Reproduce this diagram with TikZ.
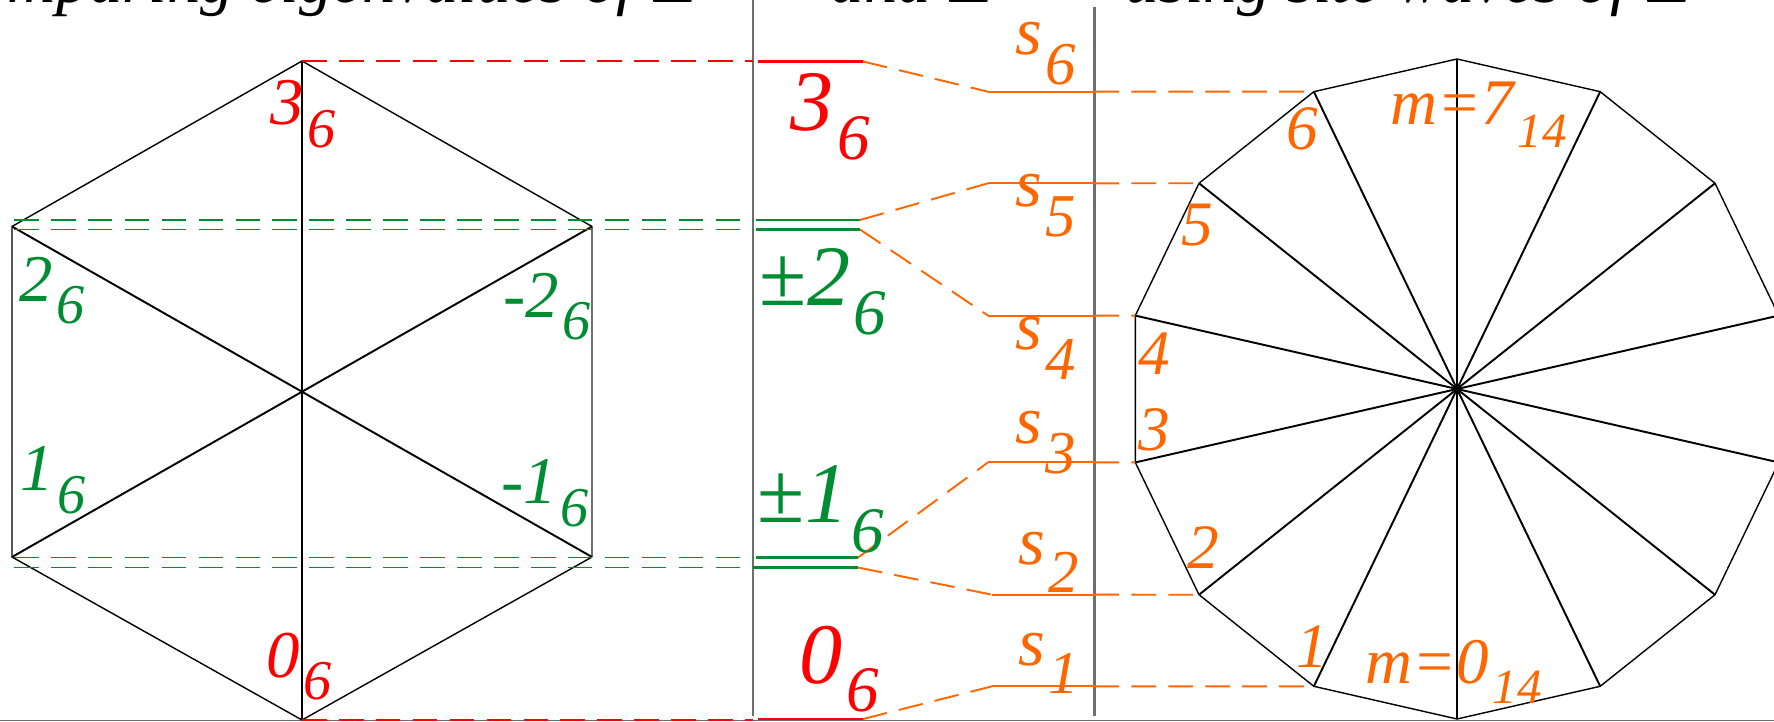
\documentclass[tikz,border=0pt]{standalone}
\usepackage{fontspec}
\usepackage{amssymb}
\setmainfont{Liberation Serif}
\definecolor{redc}{RGB}{255,0,0}
\definecolor{grn}{RGB}{0,140,50}
\definecolor{org}{RGB}{255,102,0}
\definecolor{sepc}{RGB}{110,110,110}
\newcommand\lb[5]{{\fontsize{#3}{#3}\selectfont\itshape #1}\kern1pt\raisebox{-#5}{\fontsize{#4}{#4}\selectfont\itshape #2}}
\tikzset{
  edge/.style={line width=0.4pt, black},
  spoke/.style={line width=0.55pt, black},
  sepline/.style={line width=0.7pt, sepc},
  lvl/.style={line width=0.6pt},
  dsh/.style={line width=0.55pt, dash pattern=on 7pt off 3.5pt},
  lab/.style={inner sep=0pt, anchor=base west},
  ttl/.style={inner sep=0pt, font=\fontsize{19}{19}\selectfont\itshape}
}
\begin{document}
\begin{tikzpicture}[x=0.01cm, y=-0.01cm]
\useasboundingbox (0,0) rectangle (1774,722);
\clip (0,0) rectangle (1774,722);

% title (cut off at the top)
\node[ttl, anchor=base east] (t1) at (697,3) {Comparing eigenvalues of $\mathbb{Z}$};
\node[ttl, anchor=base west] (t2) at (830,3) {and $\mathbb{Z}$};
\node[ttl, anchor=base west] (t3) at (1125,3) {using site waves of $\mathbb{Z}$};

% separators
\coordinate (a1) at (753,0);
\coordinate (a2) at (753,716);
\coordinate (b1) at (1094.5,7);
\coordinate (b2) at (1094.5,716);
\coordinate (c1) at (0,720.5);
\coordinate (c2) at (1774,720.5);
\draw[sepline] (a1) -- (a2);
\draw[sepline] (b1) -- (b2);
\draw[line width=0.5pt, sepc] (c1) -- (c2);

% hexagon
\coordinate (hT) at (302,61);
\coordinate (hUR) at (592,226.5);
\coordinate (hLR) at (592,557);
\coordinate (hB) at (302,720);
\coordinate (hLL) at (12,557);
\coordinate (hUL) at (12,226.5);
\draw[edge] (hLR) -- (hB) -- (hLL) -- (hUL) -- (hT) -- (hUR);
\draw[edge, sepc] (hUR) -- (hLR);
\draw[spoke] (hT) -- (hB);
\draw[spoke] (hUL) -- (hLR);
\draw[spoke] (hUR) -- (hLL);

% middle level lines
\coordinate (m3a) at (758,61.5);  \coordinate (m3b) at (863,61.5);
\coordinate (m0a) at (758,719);   \coordinate (m0b) at (863,719);
\coordinate (g2a) at (756,220);   \coordinate (g2b) at (860,220);
\coordinate (g2c) at (756,229.5); \coordinate (g2d) at (860,229.5);
\coordinate (g1a) at (756,557.5); \coordinate (g1b) at (858,557.5);
\coordinate (g1c) at (753,567.5); \coordinate (g1d) at (858,567.5);

% hexagon -> middle dashed
\draw[dsh, redc] (hT) -- (hT -| a1);
\draw[dsh, redc] (hB) -- (hB -| a1);
\coordinate (hg2a) at (14,220);   \coordinate (hg2c) at (14,229.5);
\coordinate (hg1a) at (14,557.5); \coordinate (hg1c) at (14,567.5);
\draw[dsh, grn] (hg2a) -- (hg2a -| a1);
\draw[dsh, grn] (hg2c) -- (hg2c -| a1);
\draw[dsh, grn] (hg1a) -- (hg1a -| a1);
\draw[dsh, grn] (hg1c) -- (hg1c -| a1);

\draw[lvl, redc] (m3a) -- (m3b);
\draw[lvl, redc] (m0a) -- (m0b);
\draw[lvl, grn] (g2a) -- (g2b);
\draw[lvl, grn] (g2c) -- (g2d);
\draw[lvl, grn] (g1a) -- (g1b);
\draw[lvl, grn] (g1c) -- (g1d);

% 14-gon
\coordinate (vC) at (1457,389);
\foreach \m in {0,...,13}
  \coordinate (v\m) at ({1457-330*sin(\m*360/14)}, {389+330*cos(\m*360/14)});
\draw[edge] (v0) -- (v1) -- (v2) -- (v3) -- (v4) -- (v5) -- (v6) -- (v7) -- (v8) -- (v9) -- (v10) -- (v11) -- (v12) -- (v13) -- cycle;
\foreach \m in {0,...,13}
  \draw[spoke] (vC) -- (v\m);

% s levels
\coordinate (s6a) at (988,91.7);  \coordinate (s6b) at (1094.5,91.7);
\coordinate (s5a) at (988,183.3); \coordinate (s5b) at (1094.5,183.3);
\coordinate (s4a) at (988,315.6); \coordinate (s4b) at (1094.5,315.6);
\coordinate (s3a) at (988,462.4); \coordinate (s3b) at (1094.5,462.4);
\coordinate (s2a) at (992,594.7); \coordinate (s2b) at (1094.5,594.7);
\coordinate (s1a) at (992,686.3); \coordinate (s1b) at (1094.5,686.3);
\foreach \k in {1,...,6} {
  \draw[lvl, org] (s\k a) -- (s\k b);
  \draw[dsh, org] (s\k b) -- (v\k);
}
\draw[dsh, org] (m3b) -- (s6a);
\draw[dsh, org] (g2b) -- (s5a);
\draw[dsh, org] (g2d) -- (s4a);
\draw[dsh, org] (g1b) -- (s3a);
\draw[dsh, org] (g1d) -- (s2a);
\draw[dsh, org] (m0b) -- (s1a);

% hexagon labels
\node[lab, text=redc] (h3) at (270,125) {\lb{3}{6}{19pt}{16pt}{6.3pt}};
\node[lab, text=redc] (h0) at (266,677) {\lb{0}{6}{19pt}{16pt}{6.3pt}};
\node[lab, text=grn] (h2) at (19,301.6) {\lb{2}{6}{19pt}{16pt}{6.3pt}};
\node[lab, text=grn] (h1) at (20,491) {\lb{1}{6}{19pt}{16pt}{6.3pt}};
\node[lab, text=grn] (hm2) at (503,317.7) {\lb{-2}{6}{19pt}{16pt}{6.3pt}};
\node[lab, text=grn] (hm1) at (501,504) {\lb{-1}{6}{19pt}{16pt}{6.3pt}};

% middle labels
\node[lab, text=redc] (l3) at (790,131) {\lb{3}{6}{24.5pt}{18.5pt}{8pt}};
\node[lab, text=grn] (l2) at (759,306) {\lb{{\upshape ±}2}{6}{24.5pt}{18.5pt}{8pt}};
\node[lab, text=grn] (l1) at (757,522.6) {\lb{{\upshape ±}1}{6}{24.5pt}{18.5pt}{8.5pt}};
\node[lab, text=redc] (l0) at (799,683) {\lb{0}{6}{24.5pt}{18.5pt}{8pt}};

% s labels
\node[lab, text=org] (ls6) at (1015,55) {\lb{s}{6}{19.5pt}{17.3pt}{8.3pt}};
\node[lab, text=org] (ls5) at (1015,207) {\lb{s}{5}{19.5pt}{17.3pt}{8.3pt}};
\node[lab, text=org] (ls4) at (1015,350) {\lb{s}{4}{19.5pt}{17.3pt}{8.3pt}};
\node[lab, text=org] (ls3) at (1015,444) {\lb{s}{3}{19.5pt}{17.3pt}{8.3pt}};
\node[lab, text=org] (ls2) at (1018,564) {\lb{s}{2}{19.5pt}{17.3pt}{8pt}};
\node[lab, text=org] (ls1) at (1018,665) {\lb{s}{1}{19.5pt}{17.3pt}{8pt}};

% 14-gon labels
\node[lab, text=org, font=\fontsize{18}{18}\selectfont\itshape] (n6) at (1286,149.6) {6};
\node[lab, text=org, font=\fontsize{18}{18}\selectfont\itshape] (n5) at (1181,246) {5};
\node[lab, text=org, font=\fontsize{18}{18}\selectfont\itshape] (n4) at (1138,375) {4};
\node[lab, text=org, font=\fontsize{18}{18}\selectfont\itshape] (n3) at (1138,451) {3};
\node[lab, text=org, font=\fontsize{18}{18}\selectfont\itshape] (n2) at (1187,568.6) {2};
\node[lab, text=org, font=\fontsize{18}{18}\selectfont\itshape] (n1) at (1296,667.6) {1};
\node[lab, text=org] (m7) at (1390,125) {\lb{m=7}{14}{18.5pt}{14pt}{6.5pt}};
\node[lab, text=org] (m0) at (1365,683) {\lb{m=0}{14}{18.5pt}{14pt}{5.8pt}};
\end{tikzpicture}
\end{document}
